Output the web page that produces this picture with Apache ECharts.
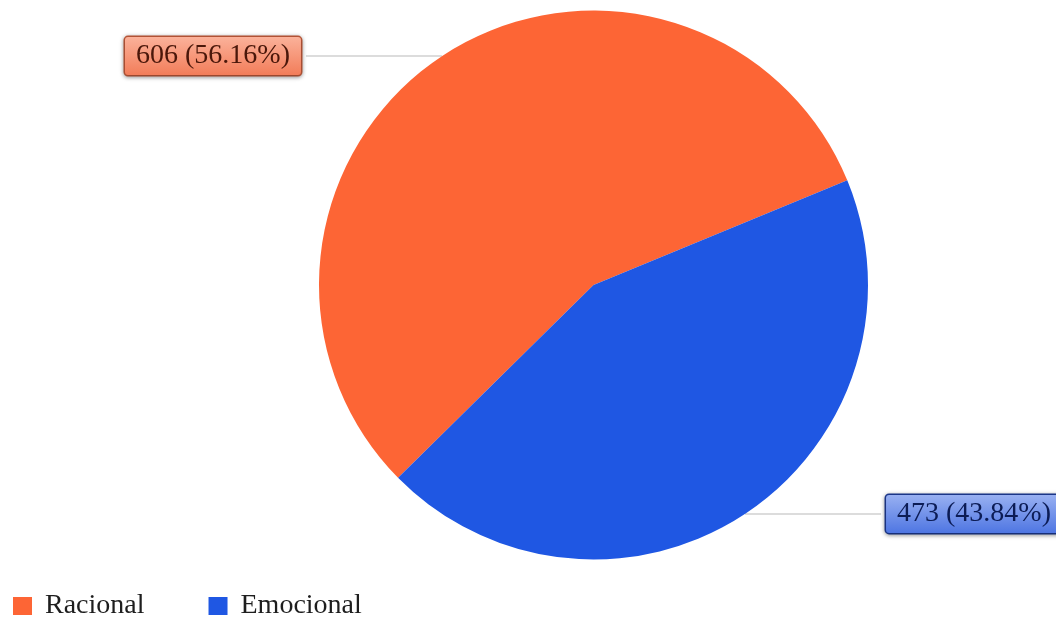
<!DOCTYPE html>
<html>
<head>
<meta charset="utf-8">
<style>
  html, body { margin: 0; padding: 0; background: #ffffff; }
  #chart { width: 1056px; height: 617px; }
</style>
<script src="https://cdn.jsdelivr.net/npm/echarts@6/dist/echarts.min.js"></script>
</head>
<body>
<div id="chart"></div>
<script>
// Categories and counts
const categories = ['Racional', 'Emocional'];
const counts = [606, 473];
const sliceColors = ['#fd6535', '#1f57e3'];

// Label box styles per slice
const labelFills = [
  ['#fbb39c', '#f27b57'],
  ['#9bb2f2', '#4c74e2']
];
const labelBorders = ['#c25a3a', '#1d3a94'];
const labelText = ['#4a170a', '#0c1c55'];

const total = counts.reduce((a, b) => a + b, 0);

const data = categories.map((name, i) => ({
  name: name,
  value: counts[i],
  itemStyle: { color: sliceColors[i] },
  label: {
    color: labelText[i],
    backgroundColor: {
      type: 'linear', x: 0, y: 0, x2: 0, y2: 1,
      colorStops: [
        { offset: 0, color: labelFills[i][0] },
        { offset: 1, color: labelFills[i][1] }
      ]
    },
    borderColor: labelBorders[i]
  }
}));

const chart = echarts.init(document.getElementById('chart'), null, { renderer: 'canvas' });

chart.setOption({
  backgroundColor: '#ffffff',
  animation: false,
  legend: {
    left: 8,
    top: 587,
    icon: 'rect',
    itemWidth: 19,
    itemHeight: 18,
    itemGap: 64,
    data: categories,
    textStyle: {
      fontFamily: 'Liberation Serif',
      fontSize: 28,
      color: '#1e1e1e',
      padding: [0, 0, 0, 8]
    }
  },
  series: [{
    type: 'pie',
    center: [593.5, 285],
    radius: 274.5,
    startAngle: 224.6,
    clockwise: true,
    avoidLabelOverlap: false,
    data: data,
    label: {
      show: true,
      position: 'outside',
      formatter: function (p) {
        return p.value + ' (' + (p.value / total * 100).toFixed(2) + '%)';
      },
      fontFamily: 'Liberation Serif',
      fontSize: 28,
      padding: [6, 11, 4, 11],
      borderWidth: 1.5,
      borderRadius: 3,
      shadowBlur: 4,
      shadowColor: 'rgba(0,0,0,0.35)',
      shadowOffsetY: 1,
      distanceToLabelLine: 5,
      bleedMargin: 0
    },
    labelLine: {
      show: true,
      length: 0,
      length2: 136,
      lineStyle: { color: '#dcdcdc', width: 2 }
    },
    emphasis: { disabled: true }
  }]
});
</script>
</body>
</html>
